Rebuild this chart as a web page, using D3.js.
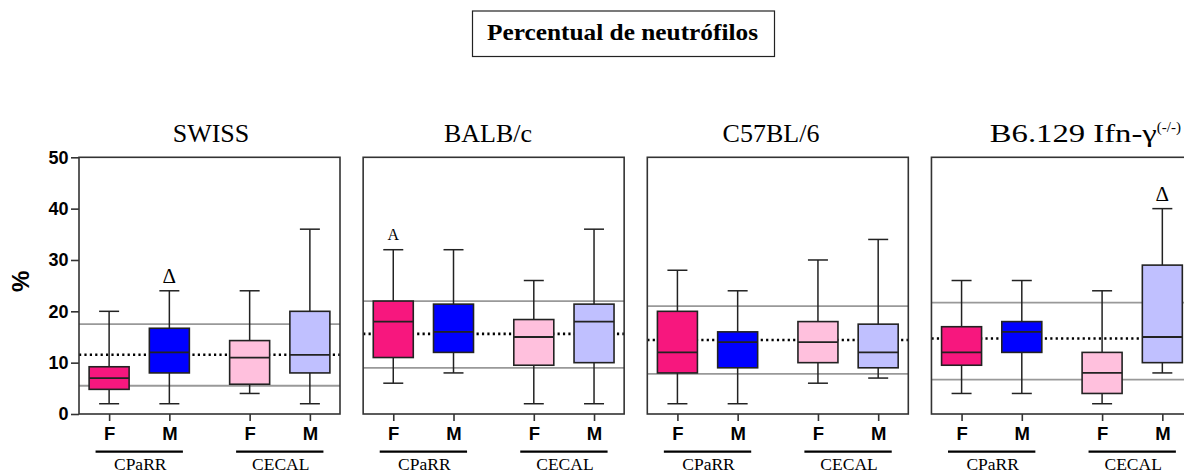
<!DOCTYPE html>
<html>
<head>
<meta charset="utf-8">
<script src="https://cdn.jsdelivr.net/npm/d3@7"></script>
<style>
  html, body { margin: 0; padding: 0; background: #fff; }
  svg { display: block; }
</style>
</head>
<body>
<svg id="chart" width="1184" height="472"></svg>
<script>
// ---------------- DATA ----------------
const chartTitle = "Percentual de neutrófilos";
const strains = ["SWISS", "BALB/c", "C57BL/6", "B6.129 Ifn-γ"];
const strainSup = ["", "", "", "(-/-)"];
const groups = ["CPaRR", "CECAL"];
const sexes = ["F", "M", "F", "M"];
const boxGroup = [0, 0, 1, 1];
const boxColors = ["#f7177e", "#0000ff", "#ffc0dd", "#c0c0ff"];
const yTicks = [0, 10, 20, 30, 40, 50];
const yLabel = "%";

// per strain, per box (CPaRR F, CPaRR M, CECAL F, CECAL M)
const whiskerLow = [
  [2, 2, 4, 2],
  [6, 8, 2, 2],
  [2, 2, 6, 7],
  [4, 4, 2, 8]
];
const q1 = [
  [4.8, 8, 5.8, 8],
  [11, 12, 9.5, 10],
  [8, 9, 10, 9],
  [9.5, 12, 4, 10]
];
const medians = [
  [7, 12, 11, 11.5],
  [18, 16, 15, 18],
  [12, 14, 14, 12],
  [12, 16, 8, 15]
];
const q3 = [
  [9.2, 16.7, 14.3, 20],
  [22, 21.4, 18.4, 21.4],
  [20, 16, 18, 17.5],
  [17, 18, 12, 29]
];
const whiskerHigh = [
  [20, 24, 24, 36],
  [32, 32, 26, 36],
  [28, 24, 30, 34],
  [26, 26, 24, 40]
];
// reference range (gray lines) and mean (dotted line) per strain
const refUpper = [17.5, 22, 21, 21.7];
const refLower = [5.5, 9, 7.8, 6.7];
const refMean = [11.55, 15.6, 14.4, 14.7];
// annotations: [strain index, box index, text]
const annotations = [
  [0, 1, "Δ"],
  [1, 0, "A"],
  [3, 3, "Δ"]
];

// ---------------- LAYOUT ----------------
const svg = d3.select("#chart");
const plotTop = 157.3, plotBottom = 414;
const panelWidth = 261;
const boxPos = [0.5, 1.5, 2.833, 3.833];
const titleShift = [1.5, -5.7, -6.8, 0];

const y = d3.scaleLinear().domain([0, 50]).range([plotBottom, plotTop]);
const panelScale = d3.scaleBand().domain(strains).range([79, 1192.3]).paddingInner(0.082);
const x = d3.scaleLinear().domain([0, 4.333]).range([0, panelWidth]);

const serif = "'Liberation Serif', 'Times New Roman', serif";
const sans = "'Liberation Sans', Arial, sans-serif";
const frameColor = "#333";

// Title box
const title = svg.append("g");
title.append("rect")
  .attr("x", 472.5).attr("y", 11).attr("width", 302).attr("height", 45.5)
  .attr("fill", "#fff").attr("stroke", "#222").attr("stroke-width", 1.2);
title.append("text")
  .attr("x", 622.5).attr("y", 40)
  .attr("text-anchor", "middle")
  .attr("font-family", serif).attr("font-weight", "bold").attr("font-size", 24)
  .attr("textLength", 271).attr("lengthAdjust", "spacingAndGlyphs")
  .attr("fill", "#000")
  .text(chartTitle);

// Y label
svg.append("text")
  .attr("transform", `translate(29, 281.3) rotate(-90)`)
  .attr("text-anchor", "middle")
  .attr("font-family", sans).attr("font-weight", "bold").attr("font-size", 24)
  .attr("fill", "#000")
  .text(yLabel);

strains.forEach((strain, si) => {
  const px = panelScale(strain);
  const g = svg.append("g").attr("transform", `translate(${px},0)`);

  // reference lines
  [refUpper[si], refLower[si]].forEach(v => {
    g.append("line")
      .attr("x1", 0).attr("x2", panelWidth)
      .attr("y1", y(v)).attr("y2", y(v))
      .attr("stroke", "#999").attr("stroke-width", 1.8);
  });
  g.append("line")
    .attr("x1", 0).attr("x2", panelWidth)
    .attr("y1", y(refMean[si])).attr("y2", y(refMean[si]))
    .attr("stroke", "#000").attr("stroke-width", 2.6)
    .attr("stroke-dasharray", "2.2,3.2");

  // boxes
  sexes.forEach((s, bi) => {
    const cx = x(boxPos[bi]);
    const bw = 40, cw = 20;
    const bg = g.append("g");
    bg.append("line")
      .attr("x1", cx).attr("x2", cx)
      .attr("y1", y(whiskerHigh[si][bi])).attr("y2", y(q3[si][bi]))
      .attr("stroke", "#222").attr("stroke-width", 1.5);
    bg.append("line")
      .attr("x1", cx).attr("x2", cx)
      .attr("y1", y(q1[si][bi])).attr("y2", y(whiskerLow[si][bi]))
      .attr("stroke", "#222").attr("stroke-width", 1.5);
    [whiskerHigh[si][bi], whiskerLow[si][bi]].forEach(v => {
      bg.append("line")
        .attr("x1", cx - cw / 2).attr("x2", cx + cw / 2)
        .attr("y1", y(v)).attr("y2", y(v))
        .attr("stroke", "#222").attr("stroke-width", 1.5);
    });
    bg.append("rect")
      .attr("x", cx - bw / 2).attr("width", bw)
      .attr("y", y(q3[si][bi])).attr("height", y(q1[si][bi]) - y(q3[si][bi]))
      .attr("fill", boxColors[bi]).attr("stroke", "#222").attr("stroke-width", 1.6);
    bg.append("line")
      .attr("x1", cx - bw / 2).attr("x2", cx + bw / 2)
      .attr("y1", y(medians[si][bi])).attr("y2", y(medians[si][bi]))
      .attr("stroke", "#222").attr("stroke-width", 1.8);
  });

  // frame
  g.append("rect")
    .attr("x", 0).attr("y", plotTop).attr("width", panelWidth).attr("height", plotBottom - plotTop)
    .attr("fill", "none").attr("stroke", frameColor).attr("stroke-width", 1.6);

  // x axis (ticks + labels)
  const xAxis = d3.axisBottom(x)
    .tickValues(boxPos)
    .tickSize(7)
    .tickFormat((d, i) => sexes[i]);
  const xa = g.append("g").attr("transform", `translate(0,${plotBottom})`).call(xAxis);
  xa.select(".domain").remove();
  xa.selectAll(".tick line").attr("stroke", frameColor).attr("stroke-width", 1.6);
  xa.selectAll(".tick text")
    .attr("font-family", sans).attr("font-weight", "bold").attr("font-size", 18.5)
    .attr("fill", "#000").attr("y", 26).attr("dy", 0);

  // group underlines and labels
  groups.forEach((gr, gi) => {
    const members = boxPos.filter((p, bi) => boxGroup[bi] === gi);
    const c = d3.mean(members);
    g.append("line")
      .attr("x1", x(c - 0.725)).attr("x2", x(c + 0.725))
      .attr("y1", 451.7).attr("y2", 451.7)
      .attr("stroke", "#000").attr("stroke-width", 2.2);
    g.append("text")
      .attr("x", x(c) + 1).attr("y", 469.5)
      .attr("text-anchor", "middle")
      .attr("font-family", serif).attr("font-size", 17.5)
      .attr("fill", "#000")
      .text(gr);
  });

  // panel title
  const hasSup = !!strainSup[si];
  const t = g.append("text")
    .attr("x", hasSup ? 58.3 : panelWidth / 2 + titleShift[si]).attr("y", 141.7)
    .attr("text-anchor", hasSup ? "start" : "middle")
    .attr("font-family", serif).attr("font-size", 26)
    .attr("fill", "#000");
  const mainSpan = t.append("tspan").text(strain);
  if (hasSup) {
    mainSpan.attr("textLength", 167).attr("lengthAdjust", "spacingAndGlyphs");
    t.append("tspan").attr("dy", -10).attr("font-size", 15).text(strainSup[si]);
  }

  // y axis on first panel
  if (si === 0) {
    const yAxis = d3.axisLeft(y).tickValues(yTicks).tickSize(8).tickPadding(2.5);
    const ya = g.append("g").call(yAxis);
    ya.select(".domain").remove();
    ya.selectAll(".tick line").attr("stroke", frameColor).attr("stroke-width", 1.6);
    ya.selectAll(".tick text")
      .attr("font-family", sans).attr("font-weight", "bold").attr("font-size", 18)
      .attr("fill", "#000");
  }
});

// annotations
annotations.forEach(([si, bi, txt]) => {
  const px = panelScale(strains[si]);
  svg.append("text")
    .attr("x", px + x(boxPos[bi])).attr("y", y(whiskerHigh[si][bi]) - (txt === "A" ? 9.7 : 8))
    .attr("text-anchor", "middle")
    .attr("font-family", serif).attr("font-size", txt === "A" ? 16 : 21)
    .attr("fill", "#000")
    .text(txt);
});
</script>
</body>
</html>
